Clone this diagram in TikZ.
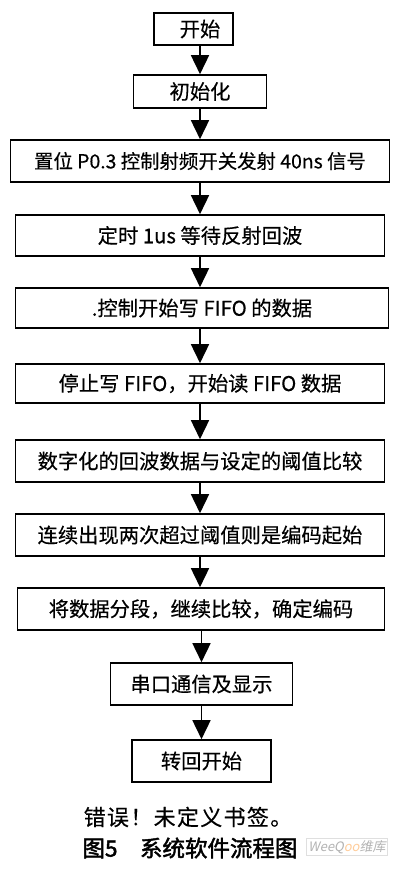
\documentclass[tikz,border=0pt]{standalone}
\usepackage{fontspec}
\setmainfont[FakeBold=0.4]{Noto Sans CJK SC}
\newfontfamily\capfont[FakeBold=2]{Noto Sans CJK SC}
\newfontfamily\capspaced[FakeBold=0.4,LetterSpace=6]{Noto Sans CJK SC}
\newfontfamily\wmslant[FakeSlant=0.2]{Noto Sans CJK SC}
\usetikzlibrary{arrows.meta}
\tikzset{
  box/.style={draw, line width=1.6pt, inner sep=0pt, font=\fontsize{20.3}{24}\selectfont},
  flow/.style={line width=1.6pt, -{Triangle[width=18pt,length=19pt]}},
  captext/.style={inner sep=0pt, font=\fontsize{22}{26}\selectfont},
}
\begin{document}
\begin{tikzpicture}
\useasboundingbox (0,0) rectangle (400pt,-870pt);
\node[box, minimum width=79pt, minimum height=32pt] (n1) at (193.5pt,-29pt) {\hspace*{13pt}开始};
\node[box, minimum width=133pt, minimum height=33pt] (n2) at (200pt,-91.5pt) {初始化};
\node[box, minimum width=379pt, minimum height=42pt] (n3) at (200pt,-161pt) {\fontsize{19.4}{23}\selectfont 置位 P0.3 控制射频开关发射 40ns 信号};
\node[box, minimum width=369pt, minimum height=41pt] (n4) at (200pt,-235.5pt) {定时 1us 等待反射回波};
\node[box, minimum width=373pt, minimum height=40pt] (n5) at (202pt,-308pt) {.控制开始写 FIFO 的数据};
\node[box, minimum width=369pt, minimum height=39pt] (n6) at (200pt,-383.5pt) {停止写 FIFO，开始读 FIFO 数据};
\node[box, minimum width=369pt, minimum height=42pt] (n7) at (200pt,-461pt) {数字化的回波数据与设定的阈值比较};
\node[box, minimum width=369pt, minimum height=42pt] (n8) at (200pt,-535pt) {连续出现两次超过阈值则是编码起始};
\node[box, minimum width=367pt, minimum height=42pt] (n9) at (201pt,-609pt) {将数据分段，继续比较，确定编码};
\node[box, minimum width=182pt, minimum height=42pt] (n10) at (201.5pt,-684pt) {串口通信及显示};
\node[box, minimum width=139pt, minimum height=42pt] (n11) at (201.5pt,-761pt) {转回开始};
\draw[flow] (n1.south -| n2.north) -- (n2.north);
\draw[flow] (n2.south) -- (n3.north);
\draw[flow] (n3.south) -- (n4.north);
\draw[flow] (n4.south) -- (n5.north -| n4.south);
\draw[flow] (n5.south -| n6.north) -- (n6.north);
\draw[flow] (n6.south) -- (n7.north);
\draw[flow] (n7.south) -- (n8.north);
\draw[flow] (n8.south) -- (n9.north -| n8.south);
\draw[flow] (n9.south -| n10.north) -- (n10.north);
\draw[flow] (n10.south) -- (n11.north);
\node[captext] (c1) at (188pt,-817pt) {\capspaced\fontsize{22}{26}\selectfont 错误！未定义书签。};
\node[captext] (c2) at (190pt,-848pt) {\capfont\fontsize{22.5}{26}\selectfont 图5\quad 系统软件流程图};
\node[draw=gray!25, fill=white, text=gray!60, inner sep=2pt, font=\fontsize{13}{15}\selectfont] (wm) at (347pt,-847pt) {\wmslant WeeQ\textcolor{orange!40}{oo}维库};
\end{tikzpicture}
\end{document}
